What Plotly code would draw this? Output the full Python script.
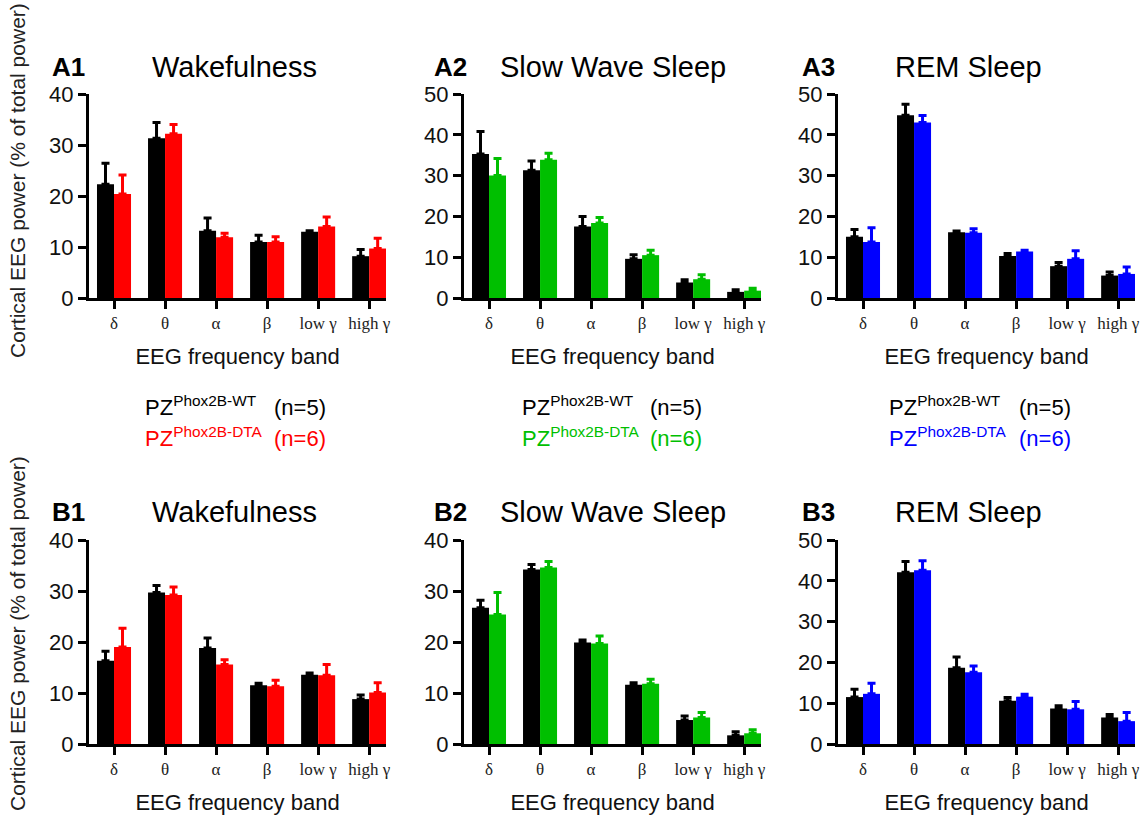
import plotly.graph_objects as go

W, H = 1143, 816

bands = ["δ", "θ", "α", "β", "low γ", "high γ"]

# Means and SEM (upper error only)
a1_wt = [22.3, 31.3, 13.2, 11.0, 13.0, 8.2]
a1_wt_err = [4.1, 3.1, 2.5, 1.3, 0.2, 1.3]
a1_dta = [20.4, 32.2, 11.9, 11.0, 14.0, 9.7]
a1_dta_err = [3.7, 1.8, 0.8, 1.0, 1.9, 2.0]

a2_wt = [35.3, 31.3, 17.5, 9.6, 3.8, 1.5]
a2_wt_err = [5.5, 2.3, 2.5, 1.0, 0.7, 0.5]
a2_dta = [30.0, 33.9, 18.4, 10.5, 4.6, 1.8]
a2_dta_err = [4.2, 1.6, 1.3, 1.2, 1.1, 0.6]

a3_wt = [15.0, 44.8, 16.1, 10.3, 7.8, 5.5]
a3_wt_err = [1.8, 2.7, 0.3, 0.6, 0.9, 0.9]
a3_dta = [13.7, 43.0, 16.0, 11.4, 9.6, 5.9]
a3_dta_err = [3.5, 1.7, 1.0, 0.3, 2.0, 1.7]

b1_wt = [16.3, 29.7, 18.8, 11.5, 13.6, 8.8]
b1_wt_err = [1.9, 1.4, 2.0, 0.4, 0.3, 0.8]
b1_dta = [19.0, 29.2, 15.6, 11.3, 13.5, 10.1]
b1_dta_err = [3.7, 1.6, 0.9, 1.2, 2.1, 1.9]

b2_wt = [26.7, 34.2, 19.9, 11.6, 4.7, 1.7]
b2_wt_err = [1.5, 1.0, 0.5, 0.4, 0.8, 0.7]
b2_dta = [25.4, 34.6, 19.7, 11.8, 5.2, 2.1]
b2_dta_err = [4.3, 1.2, 1.5, 0.9, 1.0, 0.7]

b3_wt = [11.5, 42.1, 18.7, 10.6, 8.7, 6.5]
b3_wt_err = [1.9, 2.6, 2.6, 0.8, 0.7, 0.7]
b3_dta = [12.3, 42.6, 17.6, 11.6, 8.5, 5.6]
b3_dta_err = [2.6, 2.3, 1.5, 0.6, 1.9, 2.1]

panel_labels = ["A1", "A2", "A3", "B1", "B2", "B3"]
panel_titles = ["Wakefulness", "Slow Wave Sleep", "REM Sleep",
                "Wakefulness", "Slow Wave Sleep", "REM Sleep"]
y_max = [40, 50, 50, 40, 40, 50]
dta_colors = ["#FF0000", "#00BF00", "#0000FF"]

panels = [
    (a1_wt, a1_wt_err, a1_dta, a1_dta_err),
    (a2_wt, a2_wt_err, a2_dta, a2_dta_err),
    (a3_wt, a3_wt_err, a3_dta, a3_dta_err),
    (b1_wt, b1_wt_err, b1_dta, b1_dta_err),
    (b2_wt, b2_wt_err, b2_dta, b2_dta_err),
    (b3_wt, b3_wt_err, b3_dta, b3_dta_err),
]

SANS = "Liberation Sans, Arial, sans-serif"
SERIF = "Liberation Serif, Times New Roman, serif"

# pixel layout
col_x = [(89, 386), (464, 761), (838, 1135)]
row_y = [(94, 298), (540, 744)]

def px_x(x):
    return x / W

def px_y(y):
    return 1 - y / H

fig = go.Figure()
xpos = list(range(len(bands)))

for i, (wt, wte, dta, dtae) in enumerate(panels):
    r, c = divmod(i, 3)
    n = i + 1
    xa = "x" if n == 1 else f"x{n}"
    ya = "y" if n == 1 else f"y{n}"
    col = dta_colors[c]
    fig.add_trace(go.Bar(
        x=xpos, y=wt, xaxis=xa, yaxis=ya, marker=dict(color="black", line=dict(width=0)),
        error_y=dict(type="data", symmetric=False, array=wte, arrayminus=[0] * 6,
                     color="black", thickness=3, width=4),
        showlegend=False, offsetgroup="wt"))
    fig.add_trace(go.Bar(
        x=xpos, y=dta, xaxis=xa, yaxis=ya, marker=dict(color=col, line=dict(width=0)),
        error_y=dict(type="data", symmetric=False, array=dtae, arrayminus=[0] * 6,
                     color=col, thickness=3, width=4),
        showlegend=False, offsetgroup="dta"))

    x0, x1 = col_x[c]
    y0, y1 = row_y[r]
    xkey = "xaxis" if n == 1 else f"xaxis{n}"
    ykey = "yaxis" if n == 1 else f"yaxis{n}"
    fig.layout[xkey] = dict(
        domain=[px_x(x0), px_x(x1)], anchor=ya, range=[-0.49, 5.33], automargin=False,
        tickvals=xpos, ticktext=bands, tickfont=dict(family=SERIF, size=17, color="#222"),
        showline=True, linewidth=3, linecolor="black", ticks="outside", ticklen=8,
        tickwidth=3, tickcolor="black", showgrid=False, zeroline=False, fixedrange=True,
        title=dict(text="EEG frequency band", font=dict(family=SANS, size=22, color="#111"),
                   standoff=17))
    fig.layout[ykey] = dict(
        domain=[px_y(y1), px_y(y0)], anchor=xa, range=[0, y_max[i]], dtick=10,
        automargin=False,
        showline=True, linewidth=3, linecolor="black", ticks="outside", ticklen=8,
        tickwidth=3, tickcolor="black", showgrid=False, zeroline=False,
        tickfont=dict(family=SANS, size=22, color="#111"), fixedrange=True)

    # panel label + title
    title_y = 67 if r == 0 else 512
    lab_x = [50, 432, 800][c]
    tit_cx = [(152 + 317) / 2, (500 + 726) / 2, (880 + 1057) / 2][c]
    fig.add_annotation(xref="paper", yref="paper", x=px_x(lab_x), y=px_y(title_y),
                       xanchor="left", yanchor="middle", showarrow=False,
                       text="<b>%s</b>" % panel_labels[i],
                       font=dict(family=SANS, size=26, color="black"))
    fig.add_annotation(xref="paper", yref="paper", x=px_x(tit_cx), y=px_y(title_y),
                       xanchor="center", yanchor="middle", showarrow=False,
                       text=panel_titles[i], font=dict(family=SANS, size=29, color="black"))

# y axis titles
for cy in [181, 634]:
    fig.add_annotation(xref="paper", yref="paper", x=px_x(17), y=px_y(cy),
                       xanchor="center", yanchor="middle", showarrow=False, textangle=-90,
                       text="Cortical EEG power (% of total power)",
                       font=dict(family=SANS, size=21, color="#222"))

# group legends
leg_pz_x = [143, 520, 887]
leg_n_x = [272, 648, 1017]
for c in range(3):
    for line, (txt, n_txt, colr) in enumerate([
            ("PZ<sup>Phox2B-WT</sup>", "(n=5)", "black"),
            ("PZ<sup>Phox2B-DTA</sup>", "(n=6)", dta_colors[c])]):
        yy = 411 + 31 * line
        fig.add_annotation(xref="paper", yref="paper", x=px_x(leg_pz_x[c]), y=px_y(yy + 11),
                           xanchor="left", yanchor="bottom", showarrow=False, text=txt,
                           font=dict(family=SANS, size=22, color=colr))
        fig.add_annotation(xref="paper", yref="paper", x=px_x(leg_n_x[c]), y=px_y(yy + 11),
                           xanchor="left", yanchor="bottom", showarrow=False, text=n_txt,
                           font=dict(family=SANS, size=22, color=colr))

fig.update_layout(
    width=W, height=H, margin=dict(l=0, r=0, t=0, b=0, autoexpand=False),
    paper_bgcolor="white", plot_bgcolor="white",
    barmode="group", bargap=0.333, bargroupgap=0,
    showlegend=False,
)

fig.write_html("out.html", config={"displayModeBar": False})
